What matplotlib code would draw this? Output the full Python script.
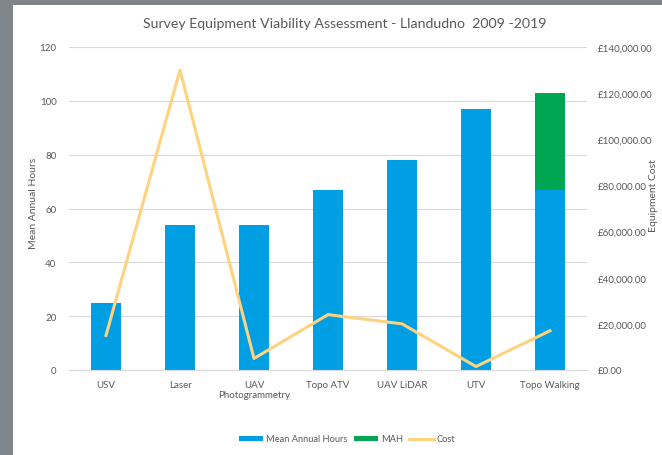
import matplotlib
matplotlib.use("Agg")
import matplotlib.pyplot as plt
import numpy as np
from matplotlib.patches import Rectangle
from matplotlib.ticker import FuncFormatter

plt.rcParams['font.family'] = ['Lato', 'DejaVu Sans']

# data
categories = ["USV", "Laser", "UAV\nPhotogrammetry", "Topo ATV", "UAV LiDAR", "UTV", "Topo Walking"]
mean_hours = [25, 54, 54, 67, 78, 97, 67]
mah = [0, 0, 0, 0, 0, 0, 36]
cost = [15000, 130000, 5000, 24000, 20000, 1500, 17000]

blue = "#009FE3"
green = "#00A651"
orange = "#FFD27F"
grey_txt = "#595959"

fig = plt.figure(figsize=(6.62, 4.56), dpi=100)
fig.patch.set_facecolor("#7F868B")
# white chart area inside the grey frame
fig.patches.append(Rectangle((13 / 662, 0), 1, 1 - 6 / 456, transform=fig.transFigure,
                             facecolor="white", edgecolor="none", zorder=-10))

ax = fig.add_axes([69 / 662, 1 - 371 / 456, 518 / 662, 323 / 456])
ax.set_facecolor("none")
x = np.arange(len(categories))
w = 0.4
ax.bar(x, mean_hours, w, color=blue, label="Mean Annual Hours", zorder=2)
ax.bar(x, mah, w, bottom=mean_hours, color=green, label="MAH", zorder=2)
ax.set_ylim(0, 120)
ax.set_yticks(range(0, 121, 20))
ax.set_xlim(-0.5, len(categories) - 0.5)
ax.set_xticks(x)
ax.set_xticklabels(categories, fontsize=7, color=grey_txt)
ax.tick_params(axis="y", labelsize=7, colors=grey_txt, length=0, pad=9)
ax.tick_params(axis="x", length=0, pad=7)
ax.yaxis.grid(True, color="#D9D9D9", linewidth=0.8, zorder=0)
ax.set_axisbelow(True)
for s in ["top", "right", "left"]:
    ax.spines[s].set_visible(False)
ax.spines["bottom"].set_color("#D9D9D9")

ax2 = ax.twinx()
ax2.plot(x, cost, color=orange, linewidth=2.2, label="Cost", zorder=3)
ax2.set_ylim(0, 140000)
ax2.set_yticks(range(0, 140001, 20000))
ax2.yaxis.set_major_formatter(FuncFormatter(lambda v, p: "£{:,.2f}".format(v)))
ax2.tick_params(axis="y", labelsize=7, colors=grey_txt, length=0, pad=8)
for s in ax2.spines.values():
    s.set_visible(False)

# axis titles placed like the original
fig.text(34 / 662, 1 - 203 / 456, "Mean Annual Hours", rotation=90, ha="center", va="center",
         fontsize=7.5, color=grey_txt)
fig.text(654 / 662, 1 - 196 / 456, "Equipment Cost", rotation=90, ha="center", va="center",
         fontsize=7.5, color=grey_txt)

fig.text(345 / 662, 1 - 24 / 456, "Survey Equipment Viability Assessment - Llandudno  2009 -2019",
         ha="center", va="center", fontsize=10.2, color=grey_txt)

h1, l1 = ax.get_legend_handles_labels()
h2, l2 = ax2.get_legend_handles_labels()
fig.legend(h1 + h2, l1 + l2, loc="center", bbox_to_anchor=(347 / 662, 1 - 440 / 456), ncol=3,
           frameon=False, fontsize=6.7, labelcolor=grey_txt, handlelength=2.6,
           handleheight=0.5, columnspacing=0.7, handletextpad=0.3)

fig.savefig("out.png", dpi=100)
